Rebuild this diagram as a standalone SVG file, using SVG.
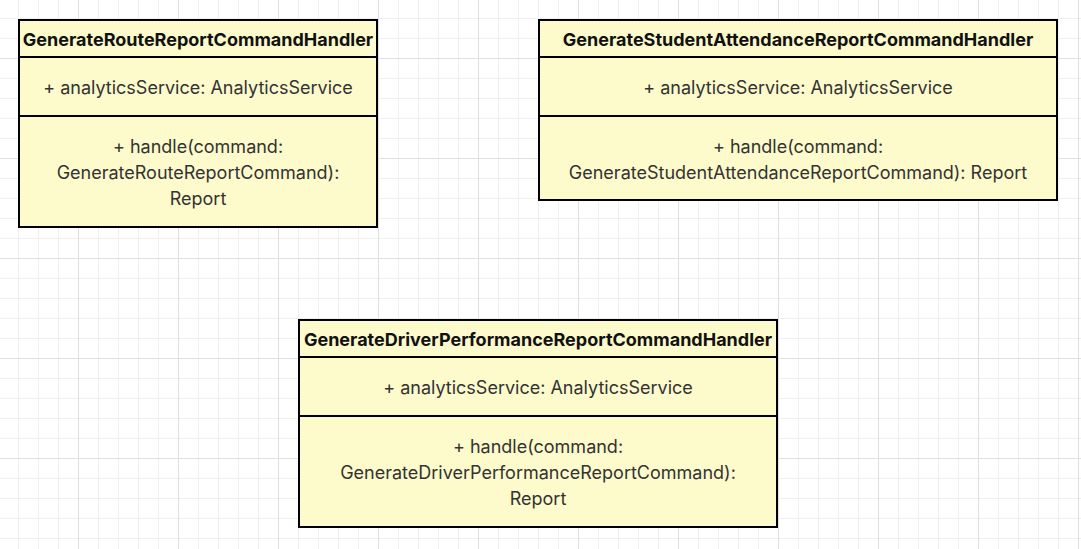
<svg xmlns="http://www.w3.org/2000/svg" width="1081" height="549" viewBox="0 0 1081 549">
<style>
.box{fill:#fdfacb;stroke:#000;stroke-width:2}
.div{stroke:#000;stroke-width:2}
.hdr{font-family:Inter,"Liberation Sans",sans-serif;font-weight:700;font-size:18px;fill:#111;text-anchor:middle;dominant-baseline:central}
.txt{font-family:Inter,"Liberation Sans",sans-serif;font-size:18px;fill:#333;text-anchor:middle;dominant-baseline:central}
</style>
<defs>
<pattern id="minor" patternUnits="userSpaceOnUse" x="18" y="18" width="20" height="20">
<path d="M0.5 0V20M0 0.5H20" stroke="#efefef" stroke-width="1" fill="none"/>
</pattern>
<pattern id="major" patternUnits="userSpaceOnUse" x="78" y="58" width="100" height="100">
<path d="M0.5 0V100M0 0.5H100" stroke="#e0e0e0" stroke-width="1" fill="none"/>
</pattern>
</defs>
<rect width="1081" height="549" fill="#fff"/>
<rect width="1081" height="549" fill="url(#minor)"/>
<rect width="1081" height="549" fill="url(#major)"/>
<g id="connectors"/>
<g id="GenerateRouteReportCommandHandler">
<rect class="box" x="19" y="20" width="358" height="207"/>
<line class="div" x1="19" y1="57" x2="377" y2="57"/>
<line class="div" x1="19" y1="116" x2="377" y2="116"/>
<text class="hdr" x="198" y="39">GenerateRouteReportCommandHandler</text>
<text class="txt" x="198" y="87.5">+ analyticsService: AnalyticsService</text>
<text class="txt" x="198" y="146.5">+ handle(command:</text>
<text class="txt" x="198" y="172.5">GenerateRouteReportCommand):</text>
<text class="txt" x="198" y="198.5">Report</text>
</g>
<g id="GenerateStudentAttendanceReportCommandHandler">
<rect class="box" x="539" y="20" width="518" height="180"/>
<line class="div" x1="539" y1="57" x2="1057" y2="57"/>
<line class="div" x1="539" y1="116" x2="1057" y2="116"/>
<text class="hdr" x="798" y="39">GenerateStudentAttendanceReportCommandHandler</text>
<text class="txt" x="798" y="87.5">+ analyticsService: AnalyticsService</text>
<text class="txt" x="798" y="146.5">+ handle(command:</text>
<text class="txt" x="798" y="172.5">GenerateStudentAttendanceReportCommand): Report</text>
</g>
<g id="GenerateDriverPerformanceReportCommandHandler">
<rect class="box" x="299" y="320" width="478" height="207"/>
<line class="div" x1="299" y1="357" x2="777" y2="357"/>
<line class="div" x1="299" y1="416" x2="777" y2="416"/>
<text class="hdr" x="538" y="339">GenerateDriverPerformanceReportCommandHandler</text>
<text class="txt" x="538" y="387.5">+ analyticsService: AnalyticsService</text>
<text class="txt" x="538" y="446.5">+ handle(command:</text>
<text class="txt" x="538" y="472.5">GenerateDriverPerformanceReportCommand):</text>
<text class="txt" x="538" y="498.5">Report</text>
</g>
</svg>
